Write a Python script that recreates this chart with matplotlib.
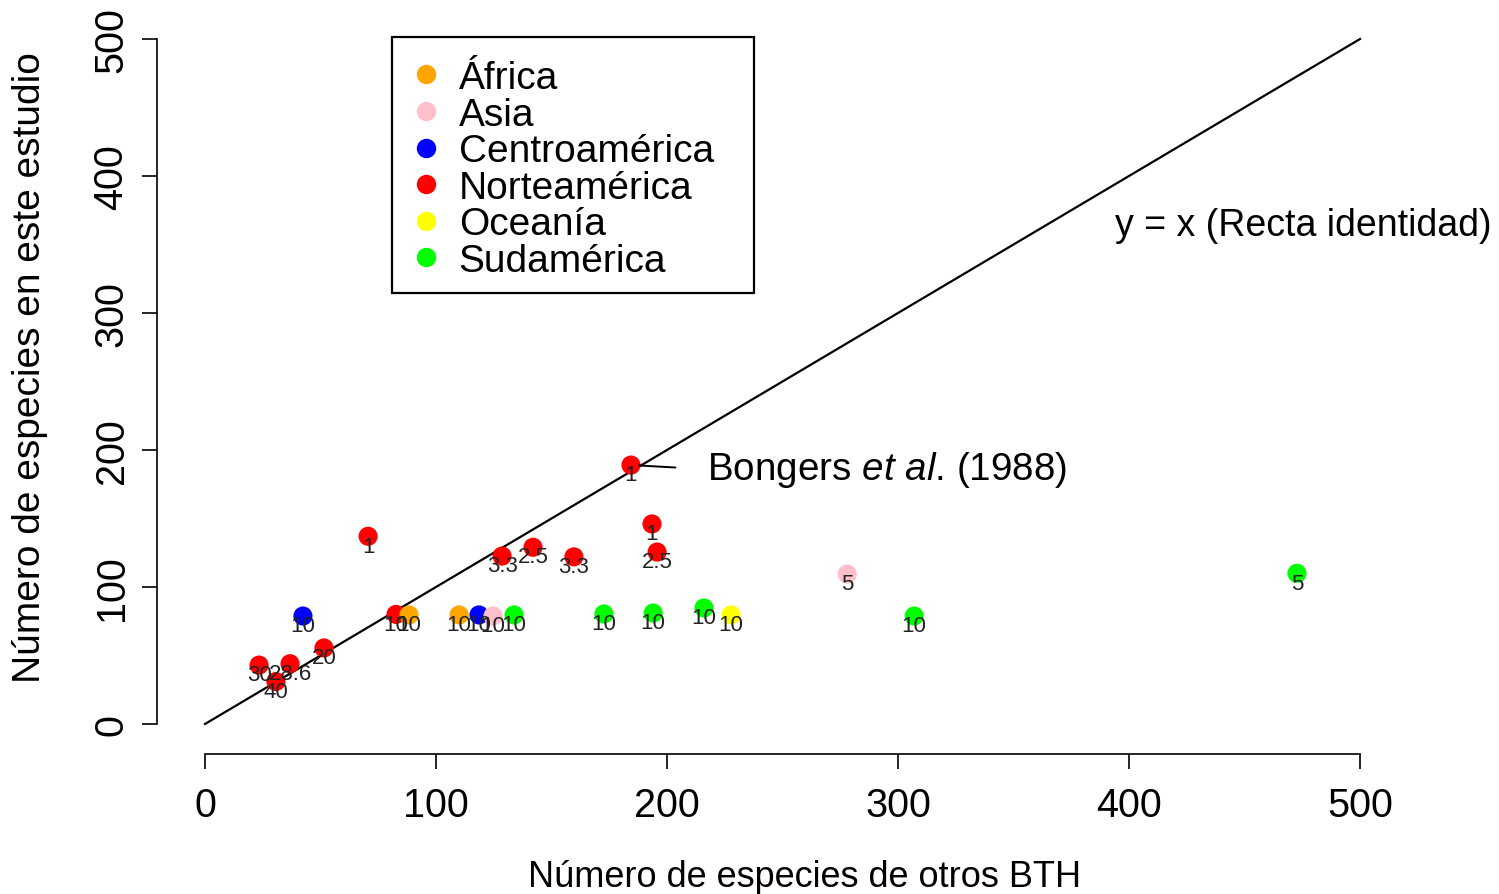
import matplotlib
matplotlib.use("Agg")
import matplotlib.pyplot as plt
from matplotlib.lines import Line2D
from matplotlib.patches import Rectangle

plt.rcParams["font.family"] = ["Liberation Sans", "DejaVu Sans"]
plt.rcParams["mathtext.fontset"] = "custom"
plt.rcParams["mathtext.rm"] = "Liberation Sans"
plt.rcParams["mathtext.it"] = "Liberation Sans:italic"

# regions and their colours
regiones = ["África", "Asia", "Centroamérica", "Norteamérica", "Oceanía", "Sudamérica"]
colores = ["#FFA500", "#FFC0CB", "#0000FF", "#FF0000", "#FFFF00", "#00FF00"]

# species in other BTH (x), species in this study (y), region, point label
otros = [23.4, 30.7, 36.8, 51.5, 70.6, 82.7, 184.4, 128.6, 142.0, 159.7, 193.5, 195.7,
         88.3, 110.0,
         42.4, 118.6,
         124.7, 278.0,
         133.8, 172.7, 194.0, 216.0, 307.0, 472.7,
         227.7]
este = [43, 31, 44, 55.5, 137, 80, 189, 122.6, 129, 122, 146, 125.5,
        79.6, 79.6,
        78.8, 79.6,
        78.8, 109.5,
        79.6, 80.3, 81, 84.7, 78.8, 110,
        79.6]
region = ["Norteamérica"] * 12 + ["África"] * 2 + ["Centroamérica"] * 2 + ["Asia"] * 2 \
    + ["Sudamérica"] * 6 + ["Oceanía"]
etiquetas = ["30", "40", "28.6", "20", "1", "10", "1", "3.3", "2.5", "3.3", "1", "2.5",
             "10", "10",
             "10", "10",
             "10", "5",
             "10", "10", "10", "10", "10", "5",
             "10"]
bongers = 6  # index of Bongers et al. (1988)

col = dict(zip(regiones, colores))

fig = plt.figure(figsize=(14.99, 8.95), dpi=100)
ax = fig.add_axes([205 / 1499, 170 / 895, 1155 / 1499, 685 / 895])
ax.set_xlim(0, 500)
ax.set_ylim(0, 500)

for s in ["top", "right"]:
    ax.spines[s].set_visible(False)
ax.spines["left"].set_position(("outward", 48 * 0.72))
ax.spines["bottom"].set_position(("outward", 30 * 0.72))
for s in ["left", "bottom"]:
    ax.spines[s].set_linewidth(1.2)
ax.set_xticks([0, 100, 200, 300, 400, 500])
ax.set_yticks([0, 100, 200, 300, 400, 500])
ax.tick_params(length=11, width=1.2, labelsize=28.5, pad=12)
ax.tick_params(axis="y", pad=8)
for lab in ax.get_yticklabels():
    lab.set_rotation(90)
    lab.set_va("center")

# identity line
ax.plot([0, 500], [0, 500], color="black", lw=1.6, clip_on=False, zorder=2)

ax.scatter(otros, este, c=[col[r] for r in region], s=190, linewidths=0,
           zorder=3, clip_on=False)
for xi, yi, t in zip(otros, este, etiquetas):
    ax.annotate(t, (xi, yi), xytext=(0, -7), textcoords="offset points",
                ha="center", va="center", fontsize=16, color="#222222", zorder=4)

ax.annotate("Bongers $\\it{et\\ al}$. (1988)", (otros[bongers], este[bongers]),
            xytext=(55, -3), textcoords="offset points", ha="left", va="center",
            fontsize=27.8,
            arrowprops=dict(arrowstyle="-", color="black", lw=1.4,
                            relpos=(0, 0.5), shrinkA=21, shrinkB=6))

ax.text(394, 364, "y = x (Recta identidad)", fontsize=27, ha="left", va="center")

# legend: entries without frame, box drawn separately
handles = [Line2D([], [], ls="", marker="o", markersize=14, markerfacecolor=c,
                  markeredgewidth=0) for c in colores]
leg = ax.legend(handles, regiones, loc="upper left",
                bbox_to_anchor=((414 - 205) / 1155, (725 - 61) / 685),
                fontsize=28, frameon=False, labelspacing=0.015, handlelength=0.6,
                handletextpad=0.55, borderpad=0, borderaxespad=0)
ax.add_patch(Rectangle(((392 - 205) / 1155, (725 - 294) / 685), 362 / 1155, 256 / 685,
                       transform=ax.transAxes, fill=False, edgecolor="black",
                       lw=1.6, clip_on=False, zorder=5))

ax.set_xlabel("Número de especies de otros BTH", fontsize=26)
ax.set_ylabel("Número de especies en este estudio", fontsize=28)
ax.xaxis.set_label_coords((805 - 205) / 1155, (725 - 860) / 685)
ax.yaxis.set_label_coords((48 - 205) / 1155, (725 - 368) / 685)

fig.savefig("out.png", dpi=100)
